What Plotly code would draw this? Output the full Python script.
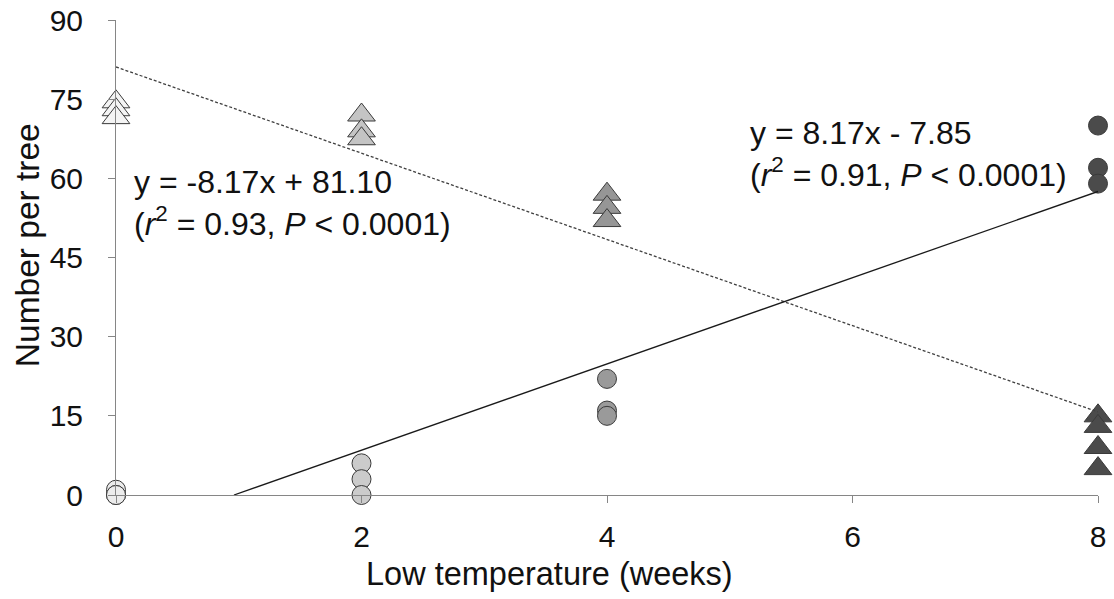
import plotly.graph_objects as go

# ---- data ----
weeks = [0, 2, 4, 8]
tri_values = {0: [74.5, 73, 71.5], 2: [72, 69, 67.5], 4: [57, 54.5, 52], 8: [15, 13, 9, 5]}
circ_values = {0: [1, 0, 0], 2: [6, 3, 0], 4: [22, 16, 15], 8: [70, 62, 59]}
fit_tri = (-8.17, 81.10)   # slope, intercept
fit_circ = (8.17, -7.85)
x_ticks = [0, 2, 4, 6, 8]
y_ticks = [0, 15, 30, 45, 60, 75, 90]

# ---- styles ----
fills = {0: "#f4f4f4", 2: "#c4c4c4", 4: "#969696", 8: "#4b4b4b"}
circ_fills = {0: "#ececec", 2: "#cbcbcb", 4: "#9a9a9a", 8: "#4b4b4b"}
edge = "#3a3a3a"
FONT = "Liberation Sans, Arial, sans-serif"

fig = go.Figure()

for w in weeks:
    fig.add_trace(go.Scatter(
        x=[w] * len(tri_values[w]), y=tri_values[w], mode="markers",
        marker=dict(symbol="triangle-up", size=24, color=fills[w],
                    line=dict(color=edge, width=1)),
        cliponaxis=False, showlegend=False))
    fig.add_trace(go.Scatter(
        x=[w] * len(circ_values[w]), y=circ_values[w], mode="markers",
        marker=dict(symbol="circle", size=19, color=circ_fills[w],
                    line=dict(color=edge, width=1)),
        cliponaxis=False, showlegend=False))

# trend lines
x0, x1 = weeks[0], weeks[-1]
m, b = fit_tri
fig.add_trace(go.Scatter(x=[x0, x1], y=[m * x0 + b, m * x1 + b], mode="lines",
                         line=dict(color="#404040", width=1.3, dash="3px,2px"),
                         cliponaxis=False, showlegend=False))
m, b = fit_circ
xs = -b / m
fig.add_trace(go.Scatter(x=[xs, x1], y=[0, m * x1 + b], mode="lines",
                         line=dict(color="#1a1a1a", width=1.3),
                         cliponaxis=False, showlegend=False))

fig.add_annotation(x=0.13, y=55.3, xref="x", yref="y", xanchor="left", yanchor="middle",
                   showarrow=False, align="left",
                   text="y = -8.17x + 81.10<br>(<i>r</i><sup>2</sup> = 0.93, <i>P</i> &lt; 0.0001)",
                   font=dict(family=FONT, size=32, color="#111111"))
fig.add_annotation(x=5.15, y=64.7, xref="x", yref="y", xanchor="left", yanchor="middle",
                   showarrow=False, align="left",
                   text="y = 8.17x - 7.85<br>(<i>r</i><sup>2</sup> = 0.91, <i>P</i> &lt; 0.0001)",
                   font=dict(family=FONT, size=32, color="#111111"))

# axis titles
fig.add_annotation(x=0.441, y=-0.166, xref="paper", yref="paper", xanchor="center", yanchor="middle",
                   showarrow=False, text="Low temperature (weeks)",
                   font=dict(family=FONT, size=32.5, color="#111111"))
fig.add_annotation(x=-0.0906, y=0.526, xref="paper", yref="paper", xanchor="center", yanchor="middle",
                   showarrow=False, text="Number per tree", textangle=-90,
                   font=dict(family=FONT, size=33.5, color="#111111"))

axis_common = dict(showgrid=False, zeroline=False, showline=True, linecolor="#868686",
                   linewidth=1, ticks="outside", ticklen=7, tickcolor="#868686",
                   ticklabeloverflow="allow",
                   tickfont=dict(family=FONT, size=30, color="#111111"))
fig.update_xaxes(range=[0, 8], tickvals=x_ticks, ticklabelstandoff=8, **axis_common)
fig.update_yaxes(range=[0, 90], tickvals=y_ticks, ticklabelstandoff=19, **axis_common)

fig.update_layout(width=1114, height=599, margin=dict(l=116, r=16, t=20, b=104, autoexpand=False),
                  plot_bgcolor="white", paper_bgcolor="white", showlegend=False)

# remove the default page margin so the figure fills the window exactly
fig.write_html("out.html", config={"displayModeBar": False},
               post_script="document.body.style.margin='0';document.body.style.overflow='hidden';")
